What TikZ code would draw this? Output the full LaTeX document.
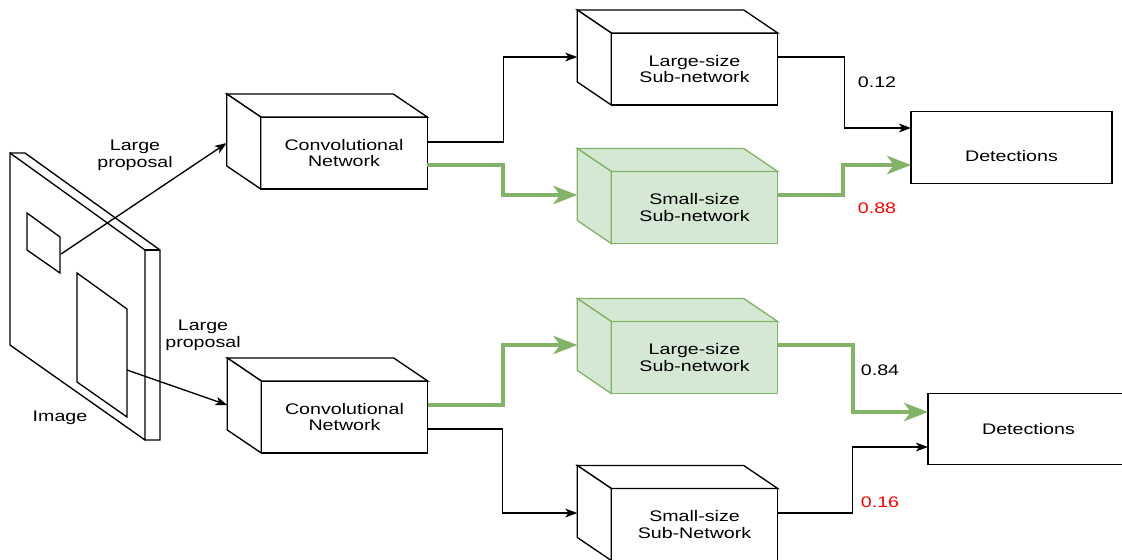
\documentclass[tikz,border=0pt]{standalone}
\usepackage{fontspec}
\setmainfont{Liberation Sans}[FakeStretch=1.28]
\usetikzlibrary{arrows.meta, calc, positioning}

\definecolor{gfill}{HTML}{D5E8D4}
\definecolor{gline}{HTML}{82B366}
\definecolor{scorered}{HTML}{FF0000}

% top and left faces of a box, drawn behind its front node
\newcommand{\cubefaces}[2][draw=black, fill=white]{%
  \path[#1] (#2.north west) -- ++(-34,-23) -- ($(#2.north east)+(-34,-23)$) -- (#2.north east) -- cycle;
  \path[#1] (#2.north west) -- ++(-34,-23) -- ++(0,72) -- (#2.south west) -- cycle;
}

\begin{document}
\begin{tikzpicture}[x=0.025cm, y=-0.025cm, line width=0.95pt,
    font=\fontsize{10.9}{11.9}\selectfont,
    box/.style={draw, fill=white, outer sep=0pt, minimum width=4.16cm, minimum height=1.8cm, align=center},
    greenbox/.style={box, draw=gline, fill=gfill},
    detbox/.style={draw, outer sep=0pt, minimum width=5.025cm, minimum height=1.79cm},
    arr/.style={-{Stealth[length=0.3cm, width=0.22cm, inset=0.08cm]}},
    garr/.style={draw=gline, line width=2.6pt, -{Stealth[length=0.6cm, width=0.46cm, inset=0.17cm]}}]
    \useasboundingbox (0,0) rectangle (1122,559);
    \clip (0,0) rectangle (1122,559);

    % image panel
    \coordinate (p01) at ( 10,153);
    \coordinate (p02) at ( 25,153);
    \coordinate (p03) at (145,250);
    \coordinate (p04) at (160,250);
    \coordinate (p05) at (145,440);
    \coordinate (p06) at (160,440);
    \coordinate (p07) at ( 10,345);

    \coordinate (sprop) at (61,254);
    \coordinate (lprop) at (127,370);

    \draw (p01) -- (p03) -- (p05) -- (p07) -- cycle;
    \draw (p01) -- (p02) -- (p04) -- (p06) -- (p05);
    \draw (p03) -- (p04);
    \draw (27,213) -- (60,237) -- (60,273) -- (27,250) -- cycle;
    \draw (77,273) -- (127,309) -- (127,417) -- (77,382) -- cycle;

    \node (img) at (60,418) {Image};
    \node[align=center] (lab1) at (135,155) {Large\\proposal};
    \node[align=center] (lab2) at (203,335) {Large\\proposal};

    % networks
    \node[box] (conv1) at (344,153) {Convolutional\\Network};
    \node[box] (conv2) at (344.5,417) {Convolutional\\Network};
    \node[box] (lg1) at (694.5,69) {Large-size\\Sub-network};
    \node[greenbox] (sm1) at (694.5,207.5) {Small-size\\Sub-network};
    \node[greenbox] (lg2) at (694.5,357.5) {Large-size\\Sub-network};
    \node[box] (sm2) at (694.5,524.5) {Small-size\\Sub-Network};

    \cubefaces{conv1}
    \cubefaces{conv2}
    \cubefaces{lg1}
    \cubefaces[draw=gline, fill=gfill]{sm1}
    \cubefaces[draw=gline, fill=gfill]{lg2}
    \cubefaces{sm2}

    \node[detbox, label={[yshift=-0.22cm]center:Detections}] (det1) at (1011.5,147.5) {};
    \node[detbox] (det2) at (1028.5,429) {Detections};

    % proposals
    \draw[arr] (sprop) -- ([xshift=-0.85cm, yshift=0.25cm]conv1.west);
    \draw[arr] (lprop) -- ([xshift=-0.85cm, yshift=0.3cm]conv2.west);

    % upper branch
    \draw[arr] ([yshift=0.275cm]conv1.east) -- ++(76,0) |- ([xshift=-0.85cm, yshift=0.3cm]lg1.west);
    \draw[garr] ([yshift=-0.3cm]conv1.east) -- ++(76,0) |- ([xshift=-0.85cm, yshift=0.3125cm]sm1.west);
    \draw[arr] ([yshift=0.3cm]lg1.east) -- ++(67,0) |- ([yshift=0.4875cm]det1.west);
    \draw[garr] ([yshift=0.3125cm]sm1.east) -- ++(65,0) |- ([yshift=-0.4375cm]det1.west);

    % lower branch
    \draw[garr] ([yshift=0.3cm]conv2.east) -- ++(75,0) |- ([xshift=-0.85cm, yshift=0.3125cm]lg2.west);
    \draw[arr] ([yshift=-0.3cm]conv2.east) -- ++(75,0) |- ([xshift=-0.85cm, yshift=0.2875cm]sm2.west);
    \draw[garr] ([yshift=0.3125cm]lg2.east) -- ++(75,0) |- ([yshift=0.425cm]det2.west);
    \draw[arr] ([yshift=0.2875cm]sm2.east) -- ++(75,0) |- ([yshift=-0.45cm]det2.west);

    % scores
    \node (s1) at (877,82) {0.12};
    \node[text=scorered] (s2) at (877,208) {0.88};
    \node (s3) at (880,370) {0.84};
    \node[text=scorered] (s4) at (880,502) {0.16};
\end{tikzpicture}
\end{document}
